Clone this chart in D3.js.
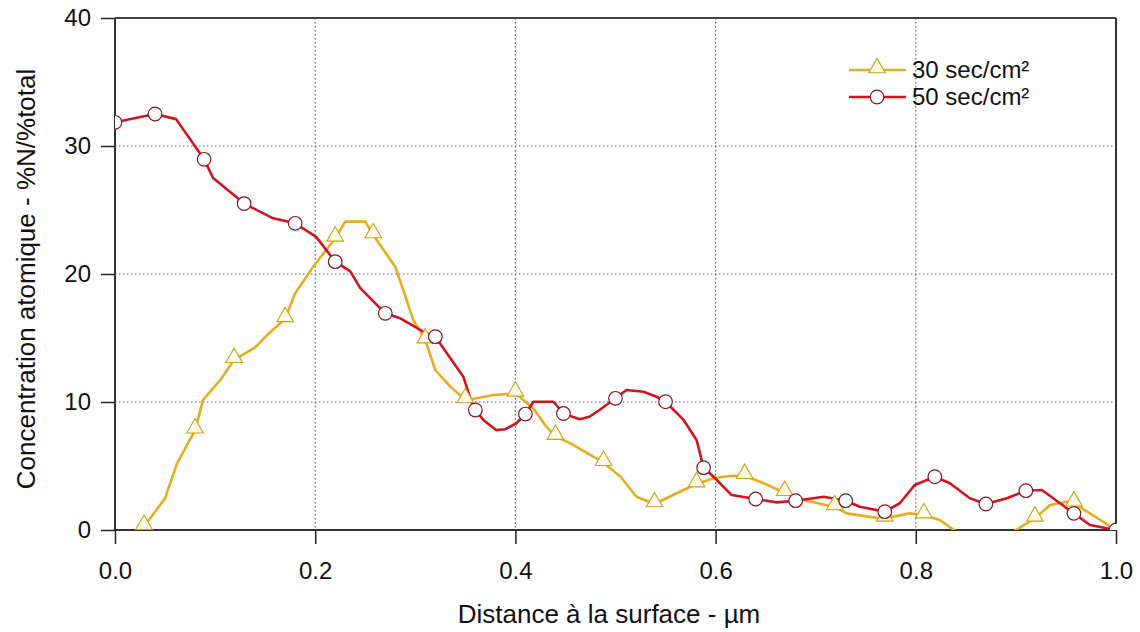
<!DOCTYPE html>
<html>
<head>
<meta charset="utf-8">
<script src="https://cdn.jsdelivr.net/npm/d3@7"></script>
<style>
  html, body { margin: 0; padding: 0; background: #fff; }
  svg { display: block; font-family: Arial, "Liberation Sans", sans-serif; }
</style>
</head>
<body>
<svg id="chart" width="1140" height="632"></svg>
<script>
// Nitrogen depth profiles: distance from surface (µm) vs atomic concentration (%)
const seriesNames = ["30 sec/cm²", "50 sec/cm²"];

// 30 sec/cm² profile (line vertices)
const depth30 = [0.029, 0.050, 0.062, 0.080, 0.088, 0.105, 0.119, 0.140, 0.152, 0.170, 0.180, 0.198,
  0.220, 0.230, 0.250, 0.258, 0.280, 0.288, 0.298, 0.310, 0.320, 0.335, 0.350, 0.361, 0.378, 0.400,
  0.418, 0.431, 0.440, 0.455, 0.488, 0.505, 0.521, 0.539, 0.561, 0.581, 0.598, 0.614, 0.629, 0.648,
  0.669, 0.688, 0.719, 0.731, 0.764, 0.769, 0.794, 0.808, 0.824, 0.839, 0.860, 0.880, 0.899, 0.919,
  0.934, 0.951, 0.958, 0.974, 1.000];
const conc30 = [0.26, 2.48, 5.2, 7.8, 10.16, 11.7, 13.3, 14.27, 15.23, 16.5, 18.5, 20.57,
  22.79, 24.09, 24.09, 23.05, 20.57, 18.75, 16.4, 14.84, 12.5, 11.2, 10.16, 10.29, 10.55, 10.68,
  9.5, 8.07, 7.3, 6.77, 5.26, 4.16, 2.6, 2.03, 2.87, 3.59, 4.04, 4.22, 4.24, 3.65,
  2.91, 2.34, 1.8, 1.3, 0.91, 0.91, 1.3, 1.17, 0.78, -0.05, -1.0, -1.0, -0.05, 0.91,
  1.95, 2.21, 2.09, 1.3, 0.0];
// 30 sec/cm² measured points (triangle markers)
const mark30Depth = [0.029, 0.080, 0.119, 0.170, 0.220, 0.258, 0.310, 0.350, 0.400, 0.440, 0.488,
  0.539, 0.581, 0.629, 0.669, 0.719, 0.769, 0.808, 0.860, 0.919, 0.958];
const mark30Conc = [0.26, 7.8, 13.3, 16.5, 22.79, 23.05, 14.84, 10.16, 10.68, 7.3, 5.26,
  2.03, 3.59, 4.24, 2.91, 1.8, 0.91, 1.17, -1.0, 0.91, 2.09];

// 50 sec/cm² profile (line vertices)
const depth50 = [0.000, 0.040, 0.061, 0.089, 0.098, 0.129, 0.158, 0.180, 0.201, 0.220, 0.235, 0.245,
  0.270, 0.285, 0.311, 0.320, 0.348, 0.356, 0.360, 0.368, 0.381, 0.390, 0.401, 0.410, 0.418, 0.438,
  0.448, 0.464, 0.474, 0.484, 0.500, 0.511, 0.528, 0.541, 0.550, 0.568, 0.581, 0.588, 0.598, 0.616,
  0.640, 0.661, 0.680, 0.708, 0.730, 0.744, 0.769, 0.784, 0.799, 0.819, 0.834, 0.854, 0.870, 0.891,
  0.910, 0.926, 0.944, 0.958, 0.974, 1.000];
const conc50 = [31.85, 32.5, 32.1, 28.96, 27.5, 25.5, 24.35, 23.96, 22.9, 20.96, 20.2, 18.9,
  16.93, 16.54, 15.37, 15.1, 11.98, 10.02, 9.375, 8.6, 7.8, 7.87, 8.34, 9.06, 10.02, 10.02,
  9.1, 8.65, 8.85, 9.375, 10.29, 10.94, 10.8, 10.41, 10.02, 8.6, 7.03, 4.87, 4.16, 2.73,
  2.42, 2.16, 2.29, 2.6, 2.29, 1.82, 1.43, 2.09, 3.52, 4.16, 3.65, 2.48, 2.03, 2.48,
  3.07, 3.125, 2.09, 1.3, 0.39, 0.0];
// 50 sec/cm² measured points (circle markers)
const mark50Depth = [0.000, 0.040, 0.089, 0.129, 0.180, 0.220, 0.270, 0.320, 0.360, 0.410, 0.448,
  0.500, 0.550, 0.588, 0.640, 0.680, 0.730, 0.769, 0.819, 0.870, 0.910, 0.958, 1.000];
const mark50Conc = [31.85, 32.5, 28.96, 25.5, 23.96, 20.96, 16.93, 15.1, 9.375, 9.06, 9.1,
  10.29, 10.02, 4.87, 2.42, 2.29, 2.29, 1.43, 4.16, 2.03, 3.07, 1.3, 0.0];

const xTicks = [0.0, 0.2, 0.4, 0.6, 0.8, 1.0];
const yTicks = [0, 10, 20, 30, 40];
const xTitle = "Distance à la surface - µm";
const yTitle = "Concentration atomique - %N/%total";

const colors = { s30: "#e5ad22", s50: "#d0151f", m30: "#c9a11a", m50: "#7a1a22", grid: "#4f5d94" };
const FONT = "Arial, 'Liberation Sans', sans-serif";

const svg = d3.select("#chart");
const margin = { left: 115, top: 18, right: 1140 - 1116, bottom: 632 - 530 };
const W = 1140 - margin.left - margin.right;
const H = 632 - margin.top - margin.bottom;

const x = d3.scaleLinear().domain([0, 1]).range([0, W]);
const y = d3.scaleLinear().domain([0, 40]).range([H, 0]);

const g = svg.append("g").attr("transform", `translate(${margin.left},${margin.top})`);

svg.append("defs").append("clipPath").attr("id", "plotClip")
  .append("rect").attr("x", 0).attr("y", -2).attr("width", W + 1).attr("height", H + 2);

// Dotted grid lines
g.append("g").selectAll("line").data(xTicks.filter(v => v > 0 && v < 1)).join("line")
  .attr("x1", d => x(d)).attr("x2", d => x(d)).attr("y1", 0).attr("y2", H)
  .attr("stroke", colors.grid).attr("stroke-width", 1.2).attr("stroke-dasharray", "1.5,2.5");
g.append("g").selectAll("line").data(yTicks.filter(v => v > 0 && v < 40)).join("line")
  .attr("x1", 0).attr("x2", W).attr("y1", d => y(d)).attr("y2", d => y(d))
  .attr("stroke", colors.grid).attr("stroke-width", 1.2).attr("stroke-dasharray", "1.5,2.5");

// Axes
const xAxis = d3.axisBottom(x).tickValues(xTicks).tickFormat(d3.format(".1f")).tickSize(14).tickPadding(18);
const yAxis = d3.axisLeft(y).tickValues(yTicks).tickFormat(d3.format("d")).tickSize(14).tickPadding(10);

const gx = g.append("g").attr("transform", `translate(0,${H})`).call(xAxis);
const gy = g.append("g").call(yAxis);
[gx, gy].forEach(a => {
  a.attr("font-size", null).attr("font-family", null);
  a.select(".domain").attr("stroke", "#333").attr("stroke-width", 2);
  a.selectAll(".tick line").attr("stroke", "#222").attr("stroke-width", 1.5);
  a.selectAll(".tick text").attr("fill", "#111").attr("font-size", 24).attr("font-family", FONT);
});
gx.select(".domain").attr("d", `M0,0H${W}`);
gy.select(".domain").attr("d", `M0,${H}V0`);
// Top and right frame
g.append("line").attr("x1", 0).attr("x2", W).attr("y1", 0).attr("y2", 0).attr("stroke", "#444").attr("stroke-width", 2);
g.append("line").attr("x1", W).attr("x2", W).attr("y1", 0).attr("y2", H).attr("stroke", "#333").attr("stroke-width", 2);

// Axis titles
svg.append("text").attr("x", 609).attr("y", 623).attr("text-anchor", "middle")
  .attr("font-size", 26).attr("font-family", FONT).attr("fill", "#111").text(xTitle);
svg.append("text").attr("transform", "translate(35,279) rotate(-90)")
  .attr("text-anchor", "middle").attr("font-size", 26).attr("font-family", FONT).attr("fill", "#111").text(yTitle);

// Series
const line = d3.line().x(d => x(d[0])).y(d => y(d[1]));
const plot = g.append("g").attr("clip-path", "url(#plotClip)");
const triangle = d3.symbol().type(d3.symbolTriangle).size(120);

const series = [
  { line: d3.zip(depth30, conc30), marks: d3.zip(mark30Depth, mark30Conc), color: colors.s30, mcolor: colors.m30, shape: "tri" },
  { line: d3.zip(depth50, conc50), marks: d3.zip(mark50Depth, mark50Conc), color: colors.s50, mcolor: colors.m50, shape: "circle" }
];

series.forEach(s => {
  plot.append("path").datum(s.line).attr("d", line).attr("fill", "none")
    .attr("stroke", s.color).attr("stroke-width", 2.6).attr("stroke-linejoin", "round");
});
series.forEach(s => {
  const mg = plot.append("g");
  if (s.shape === "tri") {
    mg.selectAll("path").data(s.marks).join("path").attr("d", triangle)
      .attr("transform", d => `translate(${x(d[0])},${y(d[1]) - 2})`)
      .attr("fill", "#fffbe6").attr("stroke", s.mcolor).attr("stroke-width", 1.1);
  } else {
    mg.selectAll("circle").data(s.marks).join("circle")
      .attr("cx", d => x(d[0])).attr("cy", d => y(d[1])).attr("r", 6.8)
      .attr("fill", "#fff").attr("stroke", s.mcolor).attr("stroke-width", 1.2);
  }
});

// Legend
const legend = svg.append("g").attr("transform", "translate(849,70)");
series.forEach((s, i) => {
  const row = legend.append("g").attr("transform", `translate(0,${i * 27})`);
  row.append("line").attr("x1", 0).attr("x2", 57).attr("y1", 0).attr("y2", 0)
    .attr("stroke", s.color).attr("stroke-width", 2.6);
  if (s.shape === "tri") {
    row.append("path").attr("d", triangle).attr("transform", "translate(28,-2)")
      .attr("fill", "#fffbe6").attr("stroke", s.mcolor).attr("stroke-width", 1.1);
  } else {
    row.append("circle").attr("cx", 28).attr("cy", 0).attr("r", 6.8)
      .attr("fill", "#fff").attr("stroke", s.mcolor).attr("stroke-width", 1.2);
  }
  row.append("text").attr("x", 63).attr("y", 8).attr("font-size", 24).attr("font-family", FONT)
    .attr("fill", "#111").text(seriesNames[i]);
});
</script>
</body>
</html>
